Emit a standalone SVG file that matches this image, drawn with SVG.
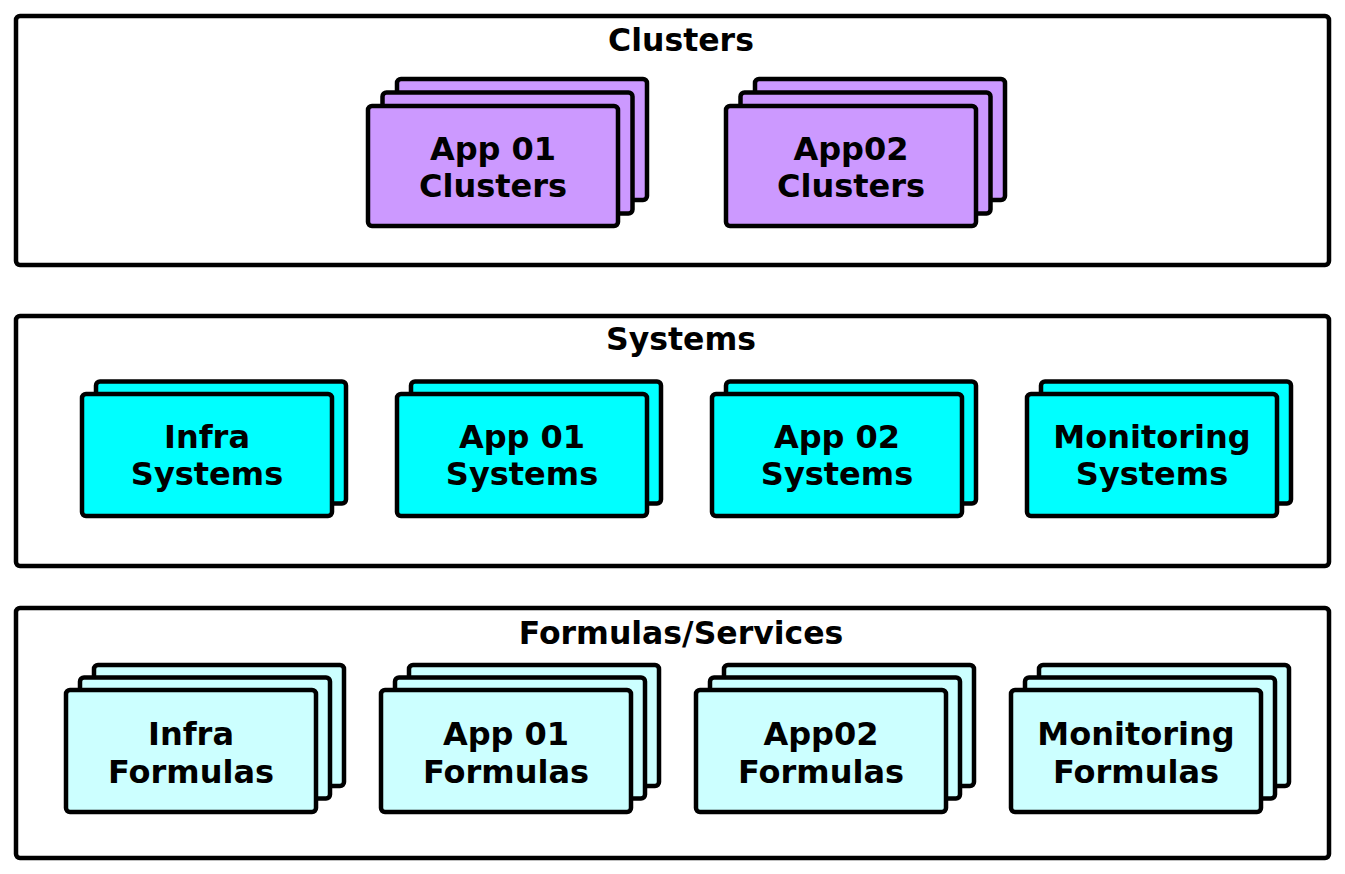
<svg xmlns="http://www.w3.org/2000/svg" width="1345" height="874" viewBox="0 0 1345 874">
<style>
.frame{fill:#FFFFFF;stroke:#000000;stroke-width:4.5}
.n{stroke:#000000;stroke-width:4.5}
.c{fill:#CC99FF}
.s{fill:#00FFFF}
.f{fill:#CCFFFF}
.title{font-family:"DejaVu Sans",sans-serif;font-weight:bold;font-size:31.5px;fill:#000;text-anchor:middle}
.lbl{font-family:"DejaVu Sans",sans-serif;font-weight:bold;font-size:32px;fill:#000;text-anchor:middle}
</style>
<rect width="1345" height="874" fill="#FFFFFF"/>
<g id="clusters">
<rect class="frame" x="16" y="16" width="1313" height="249" rx="4"/>
<text class="title" x="681" y="51">Clusters</text>
</g>
<g id="systems">
<rect class="frame" x="16" y="316" width="1313" height="250" rx="4"/>
<text class="title" x="681" y="350">Systems</text>
</g>
<g id="formulas">
<rect class="frame" x="16" y="608" width="1313" height="250" rx="4"/>
<text class="title" x="681" y="644">Formulas/Services</text>
</g>
<g id="app01-clusters">
<rect class="n c" x="397" y="79" width="250" height="121" rx="4"/>
<rect class="n c" x="382.5" y="92.5" width="250" height="121" rx="4"/>
<rect class="n c" x="368" y="106" width="250" height="120" rx="4"/>
<text class="lbl" x="493" y="160">App 01</text>
<text class="lbl" x="493" y="197">Clusters</text>
</g>
<g id="app02-clusters">
<rect class="n c" x="755" y="79" width="250" height="121" rx="4"/>
<rect class="n c" x="740.5" y="92.5" width="250" height="121" rx="4"/>
<rect class="n c" x="726" y="106" width="250" height="120" rx="4"/>
<text class="lbl" x="851" y="160">App02</text>
<text class="lbl" x="851" y="197">Clusters</text>
</g>
<g id="infra-systems">
<rect class="n s" x="96" y="381.5" width="250" height="122" rx="4"/>
<rect class="n s" x="82" y="394" width="250" height="122" rx="4"/>
<text class="lbl" x="207" y="448">Infra</text>
<text class="lbl" x="207" y="485">Systems</text>
</g>
<g id="app01-systems">
<rect class="n s" x="411" y="381.5" width="250" height="122" rx="4"/>
<rect class="n s" x="397" y="394" width="250" height="122" rx="4"/>
<text class="lbl" x="522" y="448">App 01</text>
<text class="lbl" x="522" y="485">Systems</text>
</g>
<g id="app02-systems">
<rect class="n s" x="726" y="381.5" width="250" height="122" rx="4"/>
<rect class="n s" x="712" y="394" width="250" height="122" rx="4"/>
<text class="lbl" x="837" y="448">App 02</text>
<text class="lbl" x="837" y="485">Systems</text>
</g>
<g id="monitoring-systems">
<rect class="n s" x="1041" y="381.5" width="250" height="122" rx="4"/>
<rect class="n s" x="1027" y="394" width="250" height="122" rx="4"/>
<text class="lbl" x="1152" y="448">Monitoring</text>
<text class="lbl" x="1152" y="485">Systems</text>
</g>
<g id="infra-formulas">
<rect class="n f" x="94" y="665" width="250" height="121" rx="4"/>
<rect class="n f" x="80" y="677.5" width="250" height="121" rx="4"/>
<rect class="n f" x="66" y="690" width="250" height="122" rx="4"/>
<text class="lbl" x="191" y="745">Infra</text>
<text class="lbl" x="191" y="783">Formulas</text>
</g>
<g id="app01-formulas">
<rect class="n f" x="409" y="665" width="250" height="121" rx="4"/>
<rect class="n f" x="395" y="677.5" width="250" height="121" rx="4"/>
<rect class="n f" x="381" y="690" width="250" height="122" rx="4"/>
<text class="lbl" x="506" y="745">App 01</text>
<text class="lbl" x="506" y="783">Formulas</text>
</g>
<g id="app02-formulas">
<rect class="n f" x="724" y="665" width="250" height="121" rx="4"/>
<rect class="n f" x="710" y="677.5" width="250" height="121" rx="4"/>
<rect class="n f" x="696" y="690" width="250" height="122" rx="4"/>
<text class="lbl" x="821" y="745">App02</text>
<text class="lbl" x="821" y="783">Formulas</text>
</g>
<g id="monitoring-formulas">
<rect class="n f" x="1039" y="665" width="250" height="121" rx="4"/>
<rect class="n f" x="1025" y="677.5" width="250" height="121" rx="4"/>
<rect class="n f" x="1011" y="690" width="250" height="122" rx="4"/>
<text class="lbl" x="1136" y="745">Monitoring</text>
<text class="lbl" x="1136" y="783">Formulas</text>
</g>
<g id="connectors"></g>
</svg>
